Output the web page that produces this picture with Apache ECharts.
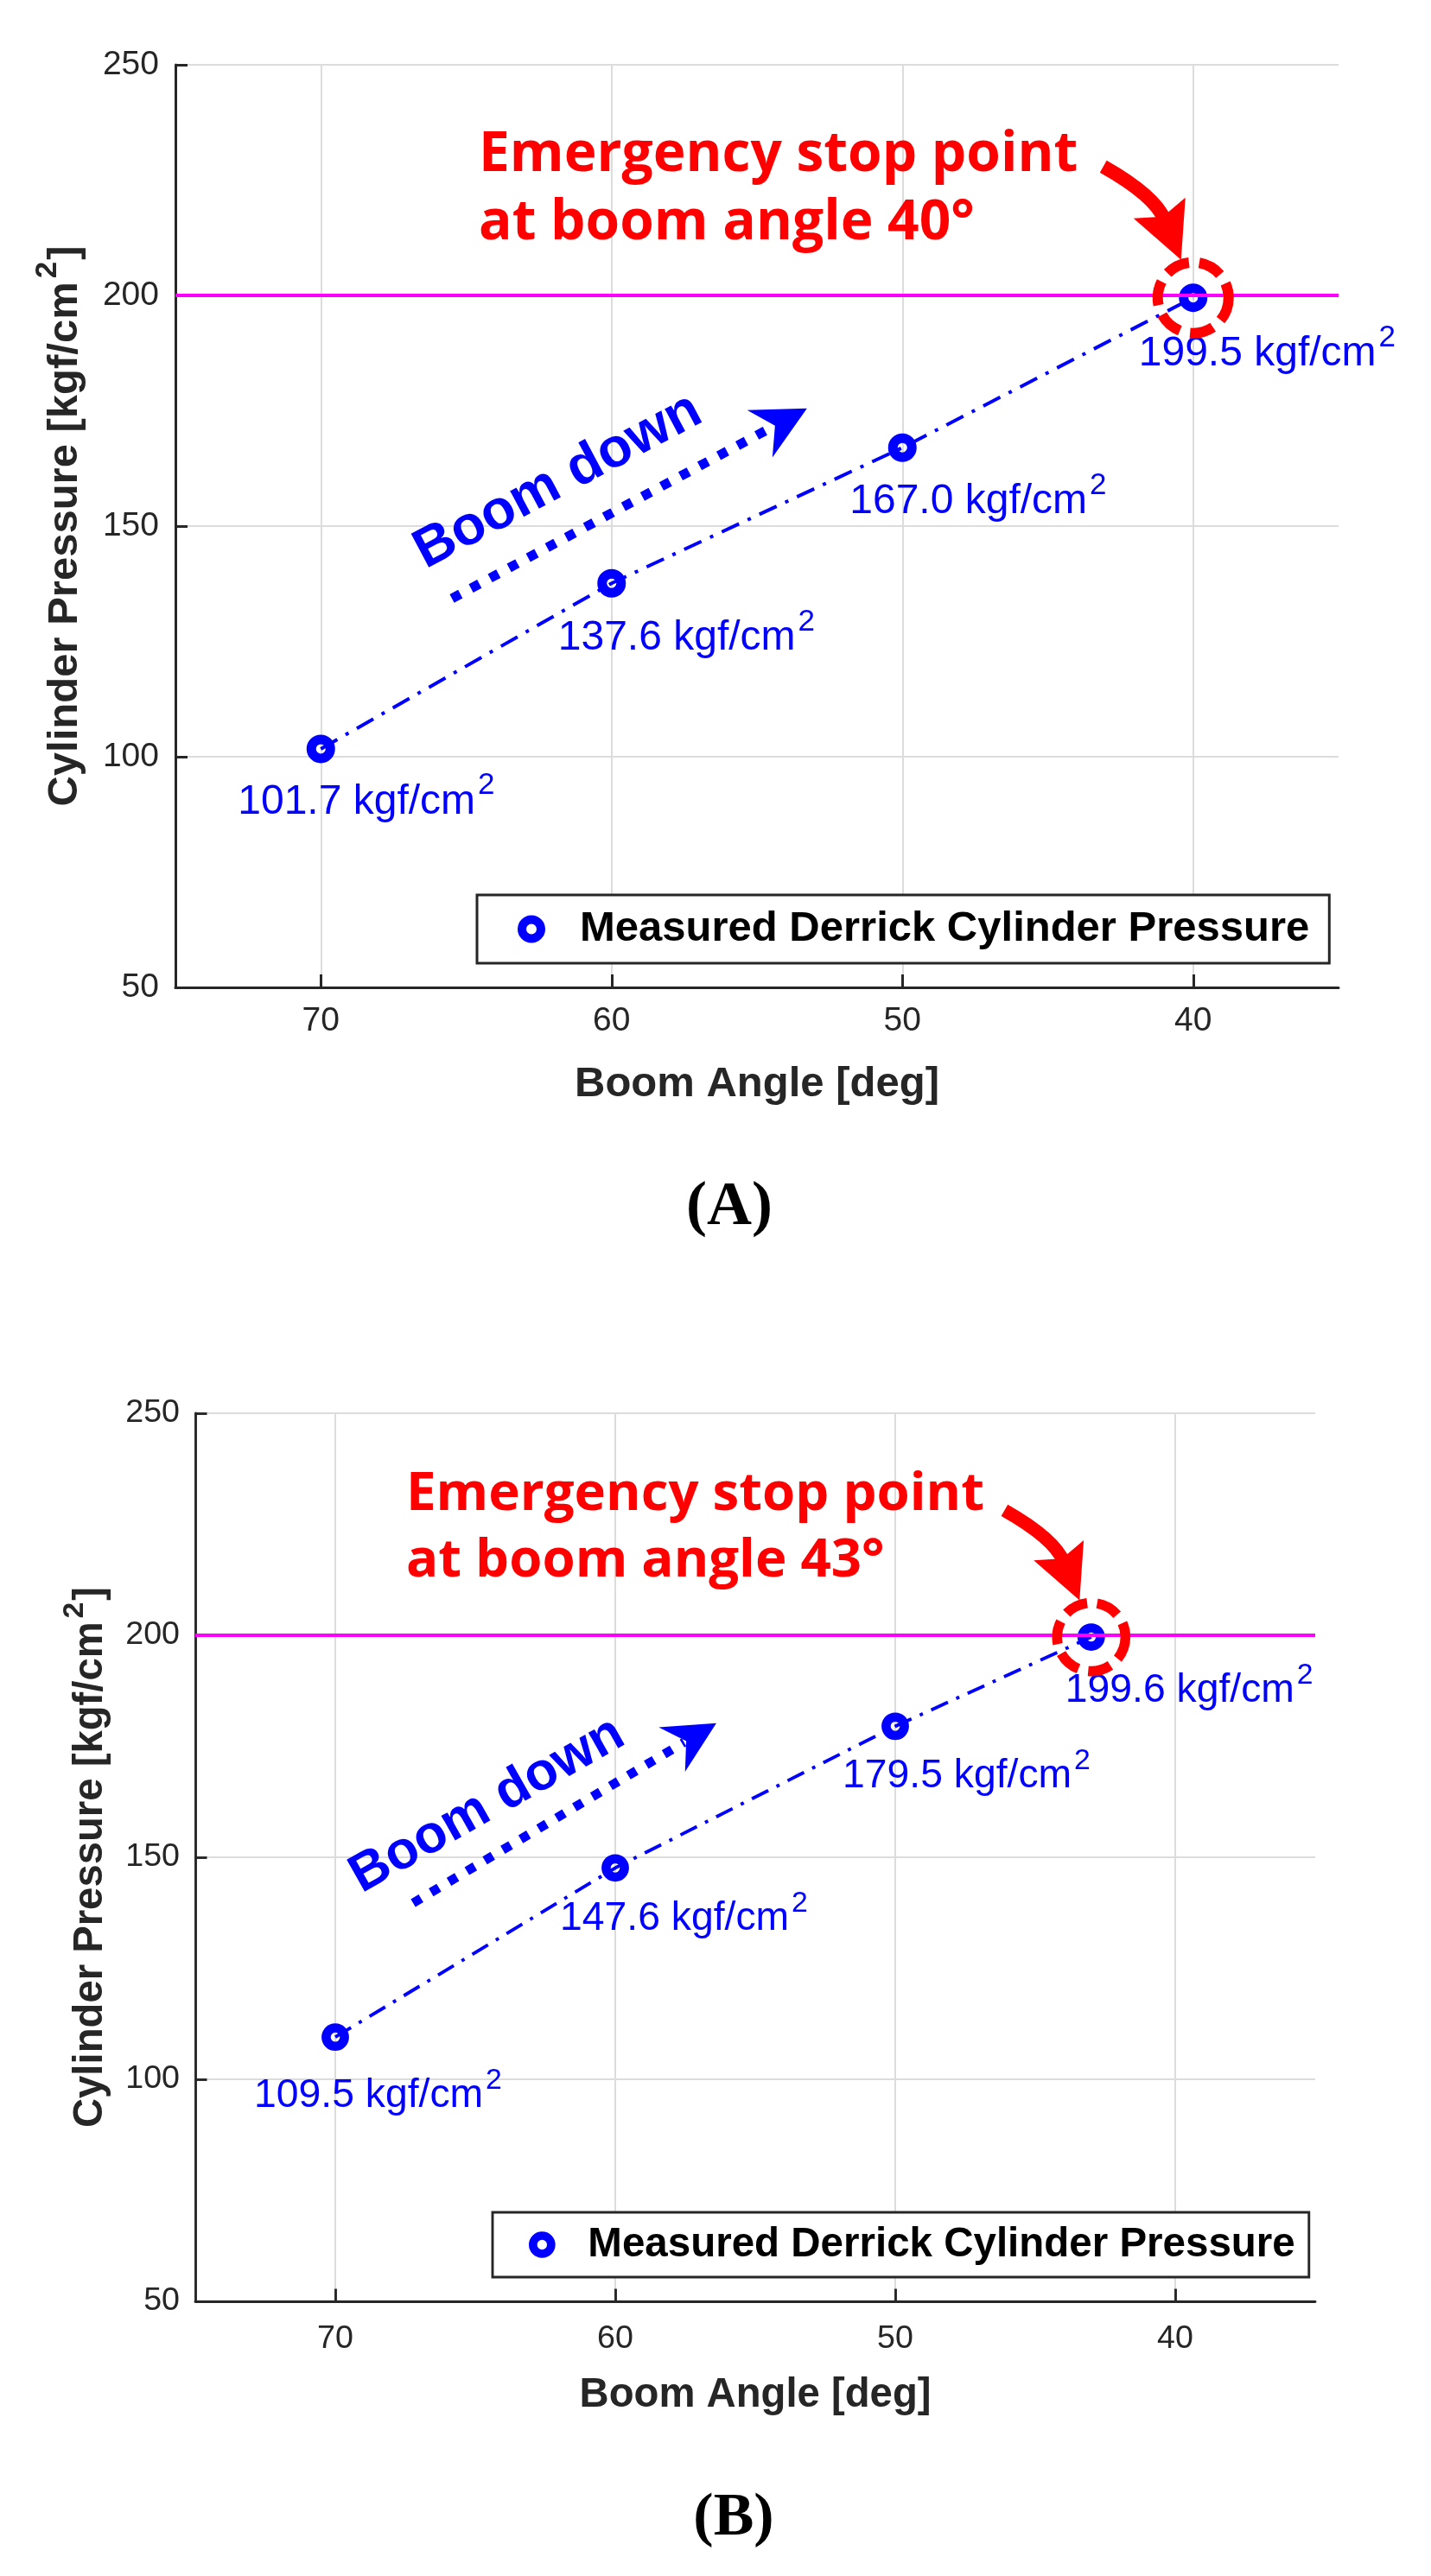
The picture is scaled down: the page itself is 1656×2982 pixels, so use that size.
<!DOCTYPE html>
<html><head><meta charset="utf-8">
<script src="https://cdn.jsdelivr.net/npm/echarts@6/dist/echarts.min.js"></script>
<style>html,body{margin:0;padding:0;background:#fff}#c{width:1656px;height:2982px}</style>
</head><body><div id="c"></div><script>
// ---------------- data ----------------
const anglesA = [70, 60, 50, 40];
const pressuresA = [101.7, 137.6, 167.0, 199.5];
const anglesB = [70, 60, 50, 43];
const pressuresB = [109.5, 147.6, 179.5, 199.6];
const limitPressure = 200;
const xTickValues = [70, 60, 50, 40];
const xRange = [35, 75];
const yRange = [50, 250];
const yStep = 50;
const seriesName = 'Measured Derrick Cylinder Pressure';
const xTitle = 'Boom Angle [deg]';
const yTitleMain = 'Cylinder Pressure [kgf/cm';
const unitMain = 'kgf/cm';
const noteLine1 = 'Emergency stop point';
const boomText = 'Boom down';
const panelLetters = ['(A)', '(B)'];

// ---------------- layout ----------------
const panels = [
  { angles: anglesA, pressures: pressuresA, s: 1,
    grid: {left: 203, top: 75, width: 1346, height: 1068},
    labelDx: [-96, -62, -61, -63], labelDy: [78, 80, 79, 82],
    yNameGap: 91, xNameGap: 88, xLabelMargin: 20, yLabelMargin: 19,
    legend: {left: 552, top: 1036, padding: [12, 23, 12, 47], itemWidth: 102, itemHeight: 22, font: 49, lineHeight: 55},
    noteAt: [64.57, 225.8], boomTextAt: [61.84, 159.7], boomRot: 28,
    boomFrom: [65.49, 134.3], boomTo: [53.28, 175.5],
    letterAt: [844, 1398], letterSize: 72 },
  { angles: anglesB, pressures: pressuresB, s: 0.965,
    grid: {left: 226, top: 1636, width: 1296, height: 1028},
    labelDx: [-94, -64, -61, -30], labelDy: [84, 75, 74, 78],
    yNameGap: 85, xNameGap: 85, xLabelMargin: 25, yLabelMargin: 18,
    legend: {left: 570, top: 2561, padding: [11, 16, 11, 42], itemWidth: 96, itemHeight: 21, font: 47.5, lineHeight: 53},
    noteAt: [67.47, 226.85], boomTextAt: [64.57, 161.7], boomRot: 29.5,
    boomFrom: [67.22, 139.7], boomTo: [56.39, 180.2],
    letterAt: [849, 2916], letterSize: 70 }
];

const SANS = 'Liberation Sans';
const AX = '#262626';
const BLUE = '#0000ff';
const RED = '#ff0000';

const option = {
  animation: false,
  backgroundColor: '#fff',
  grid: [], xAxis: [], yAxis: [], series: [], legend: []
};

panels.forEach((p, i) => {
  const s = p.s;
  option.grid.push(Object.assign({containLabel: false}, p.grid));
  option.xAxis.push({
    gridIndex: i, type: 'value', min: xRange[0], max: xRange[1], inverse: true,
    axisLine: {show: true, onZero: false, lineStyle: {color: AX, width: 3 * s}},
    axisTick: {show: true, inside: true, length: 15 * s, customValues: xTickValues, lineStyle: {color: AX, width: 3 * s}},
    axisLabel: {customValues: xTickValues, margin: p.xLabelMargin, fontSize: 39 * s, color: AX, fontFamily: SANS},
    splitLine: {show: true, lineStyle: {color: '#dcdcdc', width: 2}},
    name: xTitle, nameLocation: 'middle', nameGap: p.xNameGap,
    nameTextStyle: {fontSize: 49 * s, fontWeight: 'bold', color: AX, fontFamily: SANS, lineHeight: 49 * s}
  });
  option.yAxis.push({
    gridIndex: i, type: 'value', min: yRange[0], max: yRange[1], interval: yStep,
    axisLine: {show: true, onZero: false, lineStyle: {color: AX, width: 3 * s}},
    axisTick: {show: true, inside: true, length: 14 * s, lineStyle: {color: AX, width: 3 * s}},
    axisLabel: {margin: p.yLabelMargin, fontSize: 39 * s, color: AX, fontFamily: SANS},
    splitLine: {show: true, lineStyle: {color: '#dcdcdc', width: 2}},
    name: '{t|' + yTitleMain + '}{s|2}{t|]}', nameLocation: 'middle', nameRotate: 90, nameGap: p.yNameGap,
    nameTextStyle: {rich: {
      t: {fontSize: 49 * s, fontWeight: 'bold', color: AX, fontFamily: SANS, lineHeight: 74 * s},
      s: {fontSize: 35 * s, fontWeight: 'bold', color: AX, fontFamily: SANS, lineHeight: 35 * s, verticalAlign: 'top', padding: [0, 2 * s, 0, 4 * s]}
    }}
  });
  const fs = 48 * s, lh = 72 * s;
  const topToBase = lh / 2 + 0.3465 * fs;
  option.series.push({
    name: seriesName, type: 'line', xAxisIndex: i, yAxisIndex: i, z: 3,
    data: p.angles.map((a, k) => ({
      value: [a, p.pressures[k]],
      label: {offset: [p.labelDx[k], p.labelDy[k] - topToBase]}
    })),
    symbol: 'circle', symbolSize: 22 * s,
    itemStyle: {color: 'rgba(0,0,0,0)', borderColor: BLUE, borderWidth: 11 * s},
    lineStyle: {color: BLUE, width: 4 * s, type: [22 * s, 11 * s, 4 * s, 11 * s]},
    emphasis: {disabled: true},
    label: {
      show: true, position: 'inside', align: 'left', verticalAlign: 'top',
      formatter: (q) => '{v|' + q.value[1].toFixed(1) + ' ' + unitMain + '}{s|2}',
      rich: {
        v: {fontSize: fs, color: BLUE, fontFamily: SANS, lineHeight: lh},
        s: {fontSize: 35 * s, color: BLUE, fontFamily: SANS, lineHeight: 35 * s, verticalAlign: 'top', padding: [0, 0, 0, 3 * s]}
      }
    }
  });
  option.series.push({
    name: 'limit', type: 'line', xAxisIndex: i, yAxisIndex: i, z: 2, data: [],
    markLine: {silent: true, symbol: ['none', 'none'], label: {show: false},
      lineStyle: {color: '#ff00ff', width: 4 * s, type: 'solid'},
      emphasis: {disabled: true},
      data: [{yAxis: limitPressure}]}
  });
  const L = p.legend;
  option.legend.push({
    data: [seriesName], left: L.left, top: L.top, padding: L.padding, orient: 'horizontal',
    itemWidth: L.itemWidth, itemHeight: L.itemHeight, icon: 'circle', selectedMode: false,
    itemStyle: {color: 'rgba(0,0,0,0)', borderColor: BLUE, borderWidth: 10 * s},
    textStyle: {fontSize: L.font, fontWeight: 'bold', color: '#000', fontFamily: SANS, lineHeight: L.lineHeight},
    borderColor: AX, borderWidth: 3 * s, backgroundColor: '#fff', borderRadius: 0
  });
});

const chart = echarts.init(document.getElementById('c'), null, {renderer: 'canvas', width: 1656, height: 2982});
chart.setOption(option);

// ---------------- annotations ----------------
const graphics = [];
panels.forEach((p, i) => {
  const s = p.s;
  const last = p.angles.length - 1;
  const P = chart.convertToPixel({gridIndex: i}, [p.angles[last], p.pressures[last]]);
  const off = (dx, dy) => [P[0] + dx * s, P[1] + dy * s];
  // dashed red circle
  graphics.push({type: 'circle', z: 100, shape: {cx: P[0], cy: P[1], r: 41 * s},
    style: {fill: 'none', stroke: RED, lineWidth: 12 * s, lineDash: [28 * s, 12 * s]}});
  // curved red arrow
  const S = off(-104, -152), C = off(-44, -118), E = off(-33, -90);
  graphics.push({type: 'bezierCurve', z: 100, shape: {x1: S[0], y1: S[1], x2: E[0], y2: E[1], cpx1: C[0], cpy1: C[1]},
    style: {fill: 'none', stroke: RED, lineWidth: 16 * s}});
  graphics.push({type: 'polygon', z: 100, shape: {points: [off(-14, -44), off(-69, -92), off(-35, -94), off(-9, -116)]},
    style: {fill: RED}});
  // red note
  const N = chart.convertToPixel({gridIndex: i}, p.noteAt);
  const nfs = 64 * s;
  [noteLine1, 'at boom angle ' + p.angles[last] + '°'].forEach((t, k) => {
    graphics.push({type: 'text', z: 100, x: N[0], y: N[1] + k * 79 * s - 0.39 * nfs,
      style: {text: t, fill: RED, font: 'bold ' + nfs + 'px "Open Sans"', align: 'left', verticalAlign: 'middle'}});
  });
  // blue "Boom down" arrow
  const A0 = chart.convertToPixel({gridIndex: i}, p.boomFrom);
  const A1 = chart.convertToPixel({gridIndex: i}, p.boomTo);
  const dx = A1[0] - A0[0], dy = A1[1] - A0[1], len = Math.hypot(dx, dy);
  const ux = dx / len, uy = dy / len, nx = -uy, ny = ux;
  const shaftEnd = [A1[0] - 45 * s * ux, A1[1] - 45 * s * uy];
  graphics.push({type: 'line', z: 100, shape: {x1: A0[0], y1: A0[1], x2: shaftEnd[0], y2: shaftEnd[1]},
    style: {stroke: BLUE, lineWidth: 11 * s, lineDash: [11 * s, 14 * s], lineCap: 'butt'}});
  const bm = [A1[0] - 62 * s * ux, A1[1] - 62 * s * uy];
  graphics.push({type: 'polygon', z: 100, shape: {points: [
    A1,
    [bm[0] + 31 * s * nx, bm[1] + 31 * s * ny],
    [A1[0] - 42 * s * ux, A1[1] - 42 * s * uy],
    [bm[0] - 31 * s * nx, bm[1] - 31 * s * ny]
  ]}, style: {fill: BLUE}});
  const T = chart.convertToPixel({gridIndex: i}, p.boomTextAt);
  graphics.push({type: 'text', z: 100, x: T[0], y: T[1], rotation: p.boomRot * Math.PI / 180,
    style: {text: boomText, fill: BLUE, font: 'bold ' + (64 * s) + 'px "Liberation Sans"', align: 'center', verticalAlign: 'middle'}});
  // panel letter
  graphics.push({type: 'text', z: 100, x: p.letterAt[0], y: p.letterAt[1],
    style: {text: panelLetters[i], fill: '#000', font: 'bold ' + p.letterSize + 'px "Liberation Serif"', align: 'center', verticalAlign: 'middle'}});
});
chart.setOption({graphic: graphics});
</script></body></html>
